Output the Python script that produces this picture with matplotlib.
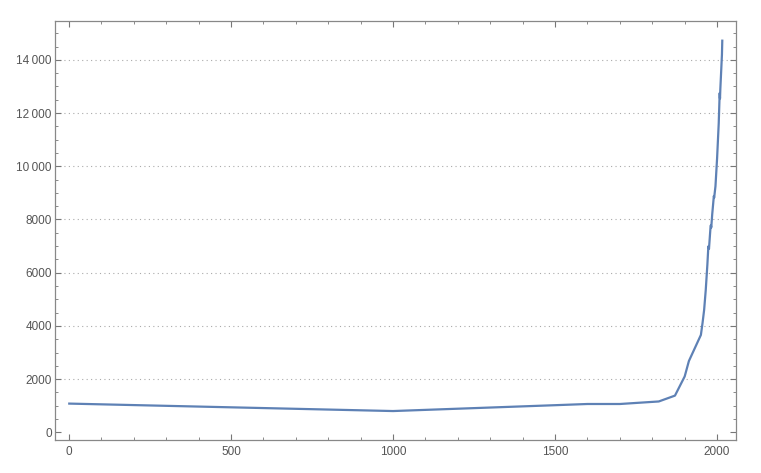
import matplotlib
matplotlib.use('Agg')
import matplotlib.pyplot as plt
from matplotlib.ticker import MultipleLocator, FuncFormatter

# world GDP per capita style series
years = [1, 1000, 1500, 1600, 1700, 1820, 1870, 1900, 1913, 1950, 1955, 1960,
         1965, 1970, 1973, 1974, 1975, 1980, 1981, 1982, 1985, 1990, 1991,
         1995, 2000, 2005, 2008, 2009, 2010, 2015, 2016]
values = [1080, 800, 1020, 1065, 1065, 1160, 1380, 2100, 2680, 3660, 4100, 4600,
          5350, 6300, 6980, 7000, 6900, 7760, 7780, 7700, 8200, 8880, 8820,
          9250, 10300, 11600, 12750, 12550, 12900, 14200, 14720]

plt.rcParams['font.family'] = ['Liberation Sans', 'DejaVu Sans']

fig = plt.figure(figsize=(7.61, 4.73), dpi=100)
ax = fig.add_axes([0.0727, 0.0691, 0.8943, 0.8871])

ax.plot(years, values, color='#5e81b5', linewidth=1.6)

ax.set_xlim(-42, 2058)
ax.set_ylim(-300, 15470)

ax.xaxis.set_major_locator(MultipleLocator(500))
ax.xaxis.set_minor_locator(MultipleLocator(100))
ax.yaxis.set_major_locator(MultipleLocator(2000))
ax.yaxis.set_minor_locator(MultipleLocator(500))

def fmt(v, pos):
    v = int(round(v))
    if v >= 10000:
        return f'{v // 1000}\u2009{v % 1000:03d}'
    return str(v)
ax.yaxis.set_major_formatter(FuncFormatter(fmt))

ax.tick_params(which='both', direction='in', top=True, right=True,
               labeltop=False, labelright=False, color='#777777',
               labelcolor='#555555', labelsize=8.5)
ax.tick_params(which='major', length=4.5, width=0.8)
ax.tick_params(which='minor', length=2.5, width=0.6)
ax.tick_params(axis='y', pad=2.5)
ax.tick_params(axis='x', pad=4)

for s in ax.spines.values():
    s.set_color('#888888')
    s.set_linewidth(0.9)

# dotted horizontal grid at major y ticks except 0
for g in range(2000, 15000, 2000):
    ax.axhline(g, color='#aaaaaa', linestyle=(0, (1, 3)), linewidth=0.8, zorder=0)

plt.savefig('out.png', dpi=100)
